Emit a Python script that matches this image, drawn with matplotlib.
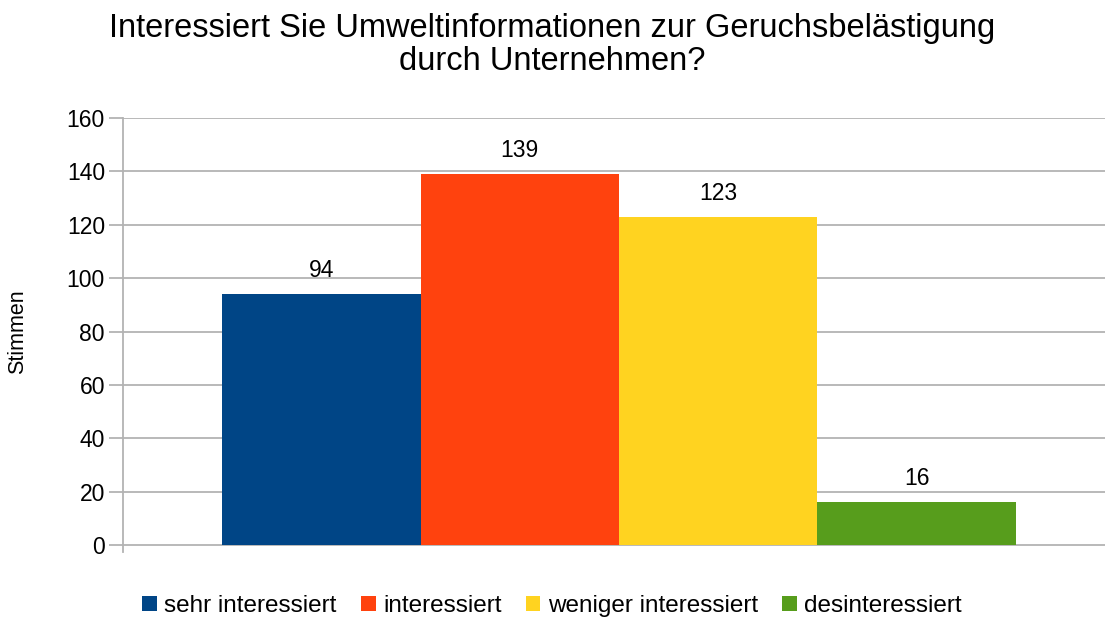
import matplotlib
matplotlib.use("Agg")
import matplotlib.pyplot as plt
from matplotlib.patches import Patch

categories = ["sehr interessiert", "interessiert", "weniger interessiert", "desinteressiert"]
values = [94, 139, 123, 16]
colors = ["#004586", "#ff420e", "#ffd320", "#579d1c"]
title = "Interessiert Sie Umweltinformationen zur Geruchsbelästigung\ndurch Unternehmen?"
ylabel = "Stimmen"
yticks = [0, 20, 40, 60, 80, 100, 120, 140, 160]

plt.rcParams['font.family'] = ['Liberation Sans', 'DejaVu Sans']

W, H = 1105, 620
fig = plt.figure(figsize=(W / 100, H / 100), dpi=100)
left, right, top, bottom = 123, 1105, 118, 552
ax = fig.add_axes([left / W, (H - bottom) / H, (right - left) / W, (bottom - top) / H])

x = list(range(len(categories)))
ax.bar(x, values, width=1.0, color=colors, zorder=3)
for xi, v in zip(x, values):
    ax.text(xi, v + 4.5, str(v), ha="center", va="bottom", fontsize=16.5, color="#000000")

ax.set_xlim(-1.0, 3.95)
ax.set_ylim(-2.6, 160)
ax.set_yticks(yticks)
ax.set_yticklabels([str(t) for t in yticks], fontsize=16.5)
ax.set_xticks([])
ax.grid(axis="y", color="#b3b3b3", linewidth=1.3, zorder=0)
for s in ["top", "right", "bottom"]:
    ax.spines[s].set_visible(False)
ax.spines["left"].set_color("#b3b3b3")
ax.spines["left"].set_linewidth(1.3)
ax.tick_params(axis="y", length=10, width=1.3, color="#b3b3b3", pad=3)

fig.text(18 / W, 1 - 332 / H, ylabel, rotation=90, ha="center", va="center", fontsize=15.5)
fig.text(552 / W, 1 - 45 / H, title, ha="center", va="center", fontsize=23.5, linespacing=1.08)

handles = [Patch(facecolor=c, edgecolor="none") for c in colors]
fig.legend(handles, categories, loc="center", bbox_to_anchor=(552 / W, 1 - 606 / H), ncol=4,
           frameon=False, fontsize=17.5, handlelength=0.6, handleheight=0.6, handletextpad=0.3,
           columnspacing=1.0, borderaxespad=0)

fig.savefig("out.png", dpi=100)
